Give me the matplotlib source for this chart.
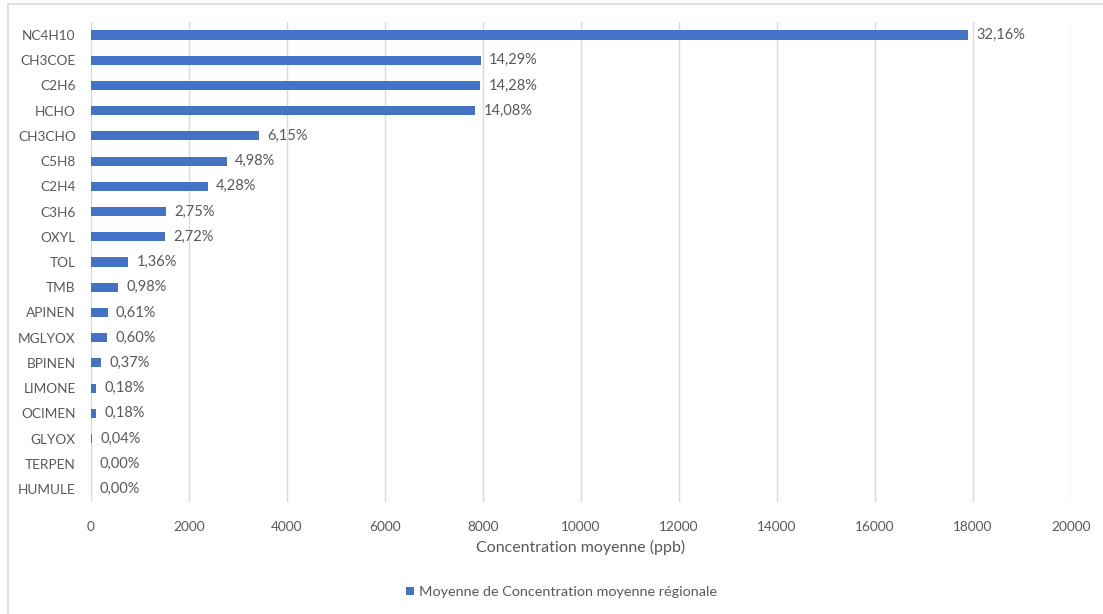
import numpy as np
import matplotlib.pyplot as plt
from matplotlib.patches import Rectangle

# ------------------------------------------------------------
# Data: mean regional concentration per species (ppb)
# ------------------------------------------------------------
species = ["NC4H10", "CH3COE", "C2H6", "HCHO", "CH3CHO", "C5H8", "C2H4",
           "C3H6", "OXYL", "TOL", "TMB", "APINEN", "MGLYOX", "BPINEN",
           "LIMONE", "OCIMEN", "GLYOX", "TERPEN", "HUMULE"]
concentration = [17900, 7954, 7948, 7837, 3423, 2772, 2382,
                 1531, 1514, 757, 545, 340, 334, 206,
                 100, 100, 22, 1, 0.5]

x_ticks = list(range(0, 20001, 2000))

BAR_COLOR = "#4472C4"
TEXT_COLOR = "#595959"
GRID_COLOR = "#D9D9D9"

plt.rcParams["font.family"] = ["Lato", "DejaVu Sans"]

share = 100 * np.array(concentration) / np.sum(concentration)
labels = [f"{s:.2f}%".replace(".", ",") for s in share]

fig = plt.figure(figsize=(11.03, 6.14), dpi=100)
ax = fig.add_axes([0.0825, 0.183, 0.8885, 0.7805])

y = np.arange(len(species))
ax.barh(y, concentration, height=0.36, color=BAR_COLOR,
        label="Moyenne de Concentration moyenne régionale", zorder=3)

for yi, v, lab in zip(y, concentration, labels):
    ax.annotate(lab, xy=(v, yi), xytext=(6, 0), textcoords="offset points",
                va="center", ha="left", fontsize=10.5, color=TEXT_COLOR)

ax.set_ylim(len(species) - 0.5, -0.5)
ax.set_yticks(y)
ax.set_yticklabels(species)
ax.set_xlim(0, 20000)
ax.set_xticks(x_ticks)
ax.set_xticklabels([str(t) for t in x_ticks])

ax.grid(axis="x", color=GRID_COLOR, linewidth=1, zorder=0)
ax.tick_params(axis="both", length=0, labelsize=9.8, colors=TEXT_COLOR)
ax.tick_params(axis="x", pad=14)
ax.tick_params(axis="y", pad=11)
for sp in ax.spines.values():
    sp.set_visible(False)

ax.set_xlabel("Concentration moyenne (ppb)", fontsize=11.5, color=TEXT_COLOR,
              labelpad=5)

fig.legend(loc="center", bbox_to_anchor=(0.509, 1 - 592 / 614), frameon=False,
           fontsize=10.4, labelcolor=TEXT_COLOR, handlelength=0.55,
           handleheight=0.55, handletextpad=0.3)

# light chart-area border (clipped at right and bottom edges)
fig.patches.append(Rectangle((8 / 1103, -0.1), 1.2, 1.1 - 4 / 614,
                             transform=fig.transFigure, fill=False,
                             edgecolor=GRID_COLOR, linewidth=1.2))

fig.savefig("out.png", dpi=100)
